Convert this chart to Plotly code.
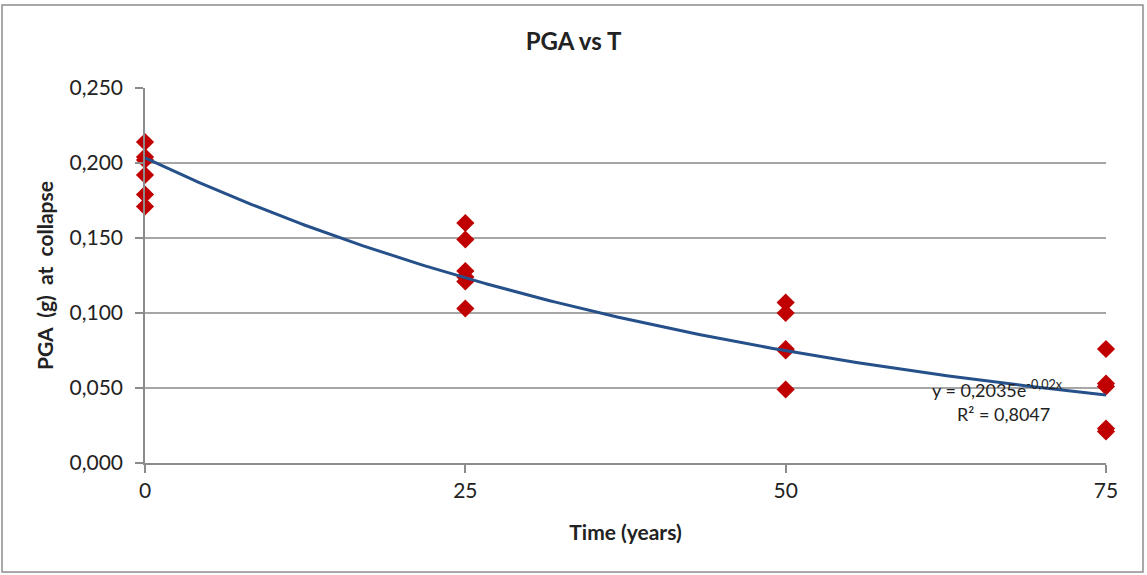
import numpy as np
import plotly.graph_objects as go

# Observed PGA at collapse for each ageing time
time_years = [0, 0, 0, 0, 0, 0,
              25, 25, 25, 25, 25, 25,
              50, 50, 50, 50, 50,
              75, 75, 75, 75, 75]
pga_collapse = [0.214, 0.204, 0.202, 0.192, 0.179, 0.171,
                0.160, 0.149, 0.128, 0.124, 0.121, 0.103,
                0.107, 0.100, 0.076, 0.075, 0.049,
                0.076, 0.053, 0.051, 0.023, 0.021]

# Exponential trendline y = a * exp(b * x)
trend_a = 0.2035
trend_b = -0.02
trend_r2 = 0.8047

x_ticks = [0, 25, 50, 75]
y_ticks = [0.0, 0.05, 0.10, 0.15, 0.20, 0.25]
y_tick_text = ["0,000", "0,050", "0,100", "0,150", "0,200", "0,250"]

FONT = "Lato, 'Open Sans', sans-serif"
TXT = "#222222"

xs = np.linspace(0, 75, 200)
ys = trend_a * np.exp(trend_b * xs)

fig = go.Figure()
fig.add_trace(go.Scatter(
    x=time_years, y=pga_collapse, mode="markers",
    marker=dict(symbol="diamond", size=14, color="#C00000"),
    cliponaxis=False, showlegend=False,
))
fig.add_trace(go.Scatter(
    x=xs, y=ys, mode="lines",
    line=dict(color="#25508A", width=3),
    cliponaxis=False, showlegend=False,
))

fmt = lambda v: f"{v}".replace(".", ",")
x_end = 75
y_end = trend_a * np.exp(trend_b * x_end)
fig.add_annotation(
    x=x_end, y=y_end, xref="x", yref="y",
    text=f"y = {fmt(trend_a)}e<sup>{fmt(trend_b)}x</sup>",
    showarrow=False, xanchor="left", yanchor="middle",
    xshift=-176, yshift=6, font=dict(family=FONT, size=18, color=TXT),
)
fig.add_annotation(
    x=x_end, y=y_end, xref="x", yref="y",
    text=f"R² = {fmt(trend_r2)}",
    showarrow=False, xanchor="left", yanchor="middle",
    xshift=-151, yshift=-19, font=dict(family=FONT, size=18, color=TXT),
)

# Outer chart frame
fig.add_shape(type="rect", xref="paper", yref="paper",
              x0=-0.1488, x1=1.0385, y0=-0.2907, y1=1.2213,
              line=dict(color="#8c8c8c", width=1.5), layer="below")

fig.update_layout(
    width=1147, height=575,
    margin=dict(l=145, r=41, t=88, b=112),
    paper_bgcolor="white", plot_bgcolor="white",
    title=dict(text="<b>PGA vs T</b>", x=0.5, xanchor="center",
               y=1 - 42 / 575, yanchor="middle",
               font=dict(family=FONT, size=24, color=TXT)),
    font=dict(family=FONT, size=20, color=TXT),
    xaxis=dict(
        range=[0, 75], tickvals=x_ticks, ticktext=[str(t) for t in x_ticks],
        showgrid=False, zeroline=False, showline=True,
        linecolor="#8c8c8c", linewidth=1.5,
        ticks="outside", ticklen=8, tickcolor="#8c8c8c", tickwidth=1.5,
        title=dict(text="<b>Time (years)</b>", standoff=24,
                   font=dict(family=FONT, size=21, color=TXT)),
        tickfont=dict(family=FONT, size=21, color=TXT),
    ),
    yaxis=dict(
        range=[0, 0.25], tickvals=y_ticks, ticktext=y_tick_text,
        showgrid=True, gridcolor="#a6a6a6", gridwidth=1.5,
        zeroline=False, showline=True, linecolor="#8c8c8c", linewidth=1.5,
        ticks="outside", ticklen=8, tickcolor="#8c8c8c", tickwidth=1.5,
        ticklabelstandoff=8,
        title=dict(text="<b>PGA&nbsp; (g)&nbsp; at&nbsp; collapse</b>", standoff=10,
                   font=dict(family=FONT, size=21, color=TXT)),
        tickfont=dict(family=FONT, size=21, color=TXT),
    ),
)

fig.write_html("out.html")
